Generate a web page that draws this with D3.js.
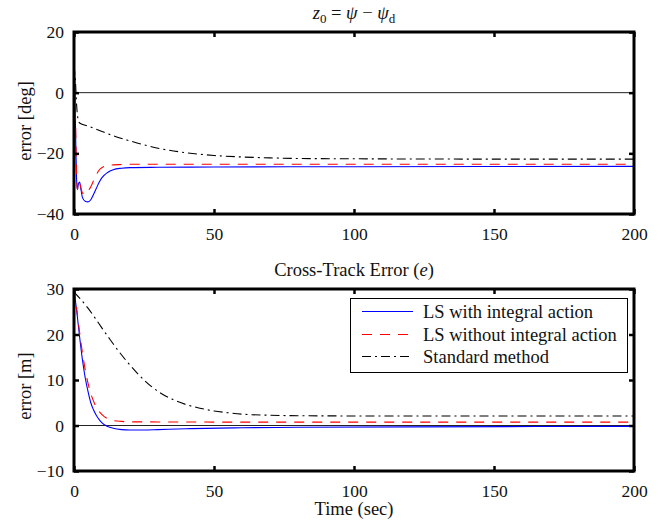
<!DOCTYPE html>
<html lang="en">
<head>
    <meta charset="UTF-8">
    <title>heading and cross-track error</title>
    <script src="https://d3js.org/d3.v7.min.js"></script>
    <style>
        body{margin:0;background:#fff}
        svg text{font-family:"Liberation Serif","Times New Roman",serif;fill:#111}
    </style>
</head>
<body>
<div id="fig"></div>
<script>
    // top panel: z0 = psi - psi_d  [deg]
    let topTime  = [0,0.3,0.6,0.9,1.2,1.6,2,2.5,3,4,5,6,7,8,9,10,12,14,17,20,30,50,100,200]
    let topBlue  = [8,2,-15,-28,-32,-30,-29.5,-32,-34.5,-35.8,-36,-35.3,-33.5,-31.5,-29.5,-28,-26.3,-25.4,-24.9,-24.7,-24.6,-24.5,-24.4,-24.3]
    let topRed   = [12,5,-12,-26,-32,-30,-29.5,-31.5,-33,-33.5,-32.5,-31,-29,-27,-25.5,-24.7,-24,-23.8,-23.7,-23.6,-23.6,-23.6,-23.6,-23.6]
    let topStdT  = [0,0.5,1,1.5,2,5,10,15,20,25,30,40,50,60,70,80,100,150,200]
    let topStd   = [9,4,-5,-9,-10,-11,-12.8,-14.5,-15.9,-17.2,-18.3,-19.8,-20.7,-21.2,-21.5,-21.7,-21.8,-21.9,-21.9]

    // bottom panel: cross-track error e [m]
    let botTime  = [0,1,2,3,4,5,6,7,8,9,10,12,14,17,20,25,30,40,60,80,120,200]
    let botBlue  = [30,25,19.5,14.5,10.5,7.5,5,3.4,2.2,1.3,0.6,-0.2,-0.6,-0.9,-1,-1,-0.9,-0.7,-0.5,-0.4,-0.3,-0.2]
    let botRed   = [30,25.5,20.5,16,12.3,9.3,7,5.3,4,3.1,2.4,1.5,1.1,0.9,0.8,0.8,0.78,0.76,0.75,0.75,0.75,0.75]
    let botStdT  = [0,2,5,8,10,13,16,19,22,25,28,31,35,40,45,50,55,60,70,80,100,200]
    let botStd   = [29.3,28,25.8,23.2,21.4,18.8,16.3,14,11.9,10,8.4,7.1,5.8,4.6,3.8,3.2,2.8,2.5,2.25,2.15,2.1,2.1]

    let xTicks = [0,50,100,150,200]
    let topYTicks = [20,0,-20,-40]
    let botYTicks = [30,20,10,0,-10]
    let legendNames = ["LS with integral action","LS without integral action","Standard method"]

    let styles = [
        {color:"#0000ff", dash:null},
        {color:"#ff0000", dash:"10,8"},
        {color:"#000000", dash:"9,4,2,4"}
    ]

    let W = 666, H = 522
    let labelSize = 18.5
    let svg = d3.select("#fig").append("svg").attr("width",W).attr("height",H)
        .attr("font-family","Liberation Serif, serif")

    function panel(box, yDomain, yTicks, series, clipId){
        let x = d3.scaleLinear().domain([0,200]).range([box.left,box.right])
        let y = d3.scaleLinear().domain(yDomain).range([box.bottom,box.top])
        let g = svg.append("g")

        g.append("clipPath").attr("id",clipId).append("rect")
            .attr("x",box.left).attr("y",box.top)
            .attr("width",box.right-box.left).attr("height",box.bottom-box.top)

        // zero reference
        g.append("line")
            .attr("x1",x(0)).attr("x2",x(200)).attr("y1",y(0)).attr("y2",y(0))
            .attr("stroke","#222").attr("stroke-width",1)

        let plot = g.append("g").attr("clip-path",`url(#${clipId})`)
        series.forEach(function(s,i){
            let pts = d3.zip(s[0],s[1])
            plot.append("path").datum(pts)
                .attr("d",d3.line().curve(d3.curveMonotoneX).x(d=>x(d[0])).y(d=>y(d[1])))
                .attr("fill","none")
                .attr("stroke",styles[i].color)
                .attr("stroke-width",1.1)
                .attr("stroke-dasharray",styles[i].dash)
        })

        let tl = 5
        let axB = g.append("g").attr("transform",`translate(0,${box.bottom})`)
            .call(d3.axisBottom(x).tickValues(xTicks).tickSize(-tl).tickPadding(10).tickFormat(d3.format("d")))
        let axT = g.append("g").attr("transform",`translate(0,${box.top})`)
            .call(d3.axisTop(x).tickValues(xTicks).tickSize(-tl).tickFormat(""))
        let axL = g.append("g").attr("transform",`translate(${box.left},0)`)
            .call(d3.axisLeft(y).tickValues(yTicks).tickSize(-tl).tickPadding(10).tickFormat(d=>d<0?"\u2212"+Math.abs(d):d))
        let axR = g.append("g").attr("transform",`translate(${box.right},0)`)
            .call(d3.axisRight(y).tickValues(yTicks).tickSize(-tl).tickFormat(""))
        ;[axB,axT,axL,axR].forEach(function(a){
            a.attr("font-family","Liberation Serif, serif")
            a.select(".domain").remove()
            a.selectAll(".tick line").attr("stroke","#000").attr("stroke-width",2.5)
            a.selectAll("text").attr("font-size",17.5).attr("fill","#111")
        })
        axB.selectAll("text").attr("dy","0.9em")

        g.append("rect")
            .attr("x",box.left).attr("y",box.top)
            .attr("width",box.right-box.left).attr("height",box.bottom-box.top)
            .attr("fill","none").attr("stroke","#000").attr("stroke-width",3)
        return {x:x,y:y,g:g}
    }

    let topBox = {left:74,right:634,top:32,bottom:214}
    let botBox = {left:74,right:634,top:289,bottom:471}

    panel(topBox,[-40,20],topYTicks,[[topTime,topBlue],[topTime,topRed],[topStdT,topStd]],"clipTop")
    panel(botBox,[-10,30],botYTicks,[[botTime,botBlue],[botTime,botRed],[botStdT,botStd]],"clipBot")

    // titles
    let t1 = svg.append("text").attr("x",354).attr("y",19).attr("text-anchor","middle").attr("font-size",labelSize)
    t1.append("tspan").attr("font-style","italic").text("z")
    t1.append("tspan").attr("font-size",13).attr("dy",4).text("0")
    t1.append("tspan").attr("dy",-4).text(" = ")
    t1.append("tspan").attr("font-style","italic").text("\u03c8")
    t1.append("tspan").text(" \u2212 ")
    t1.append("tspan").attr("font-style","italic").text("\u03c8")
    t1.append("tspan").attr("font-size",13).attr("dy",4).text("d")

    let t2 = svg.append("text").attr("x",354).attr("y",276).attr("text-anchor","middle").attr("font-size",labelSize)
    t2.append("tspan").text("Cross-Track Error (")
    t2.append("tspan").attr("font-style","italic").text("e")
    t2.append("tspan").text(")")

    svg.append("text").attr("x",354).attr("y",515).attr("text-anchor","middle").attr("font-size",labelSize).text("Time (sec)")

    svg.append("text").attr("transform","translate(31,121) rotate(-90)")
        .attr("text-anchor","middle").attr("font-size",labelSize).text("error [deg]")
    svg.append("text").attr("transform","translate(31,386) rotate(-90)")
        .attr("text-anchor","middle").attr("font-size",labelSize).text("error [m]")

    // legend
    let lg = svg.append("g").attr("font-family","Liberation Serif, serif")
    lg.append("rect").attr("x",350.5).attr("y",298.5).attr("width",277).attr("height",74)
        .attr("fill","#fff").attr("stroke","#000").attr("stroke-width",1)
    legendNames.forEach(function(name,i){
        let yy = 311.5 + Math.round(i*22.5)
        lg.append("line").attr("x1",362).attr("x2",413).attr("y1",yy).attr("y2",yy)
            .style("stroke",styles[i].color).attr("stroke-width",1.2)
            .attr("stroke-dasharray",styles[i].dash)
        lg.append("text").attr("x",423).attr("y",yy).attr("dy","0.35em")
            .attr("font-family","Liberation Serif, serif")
            .attr("font-size",labelSize).text(name)
    })
</script>
</body>
</html>
